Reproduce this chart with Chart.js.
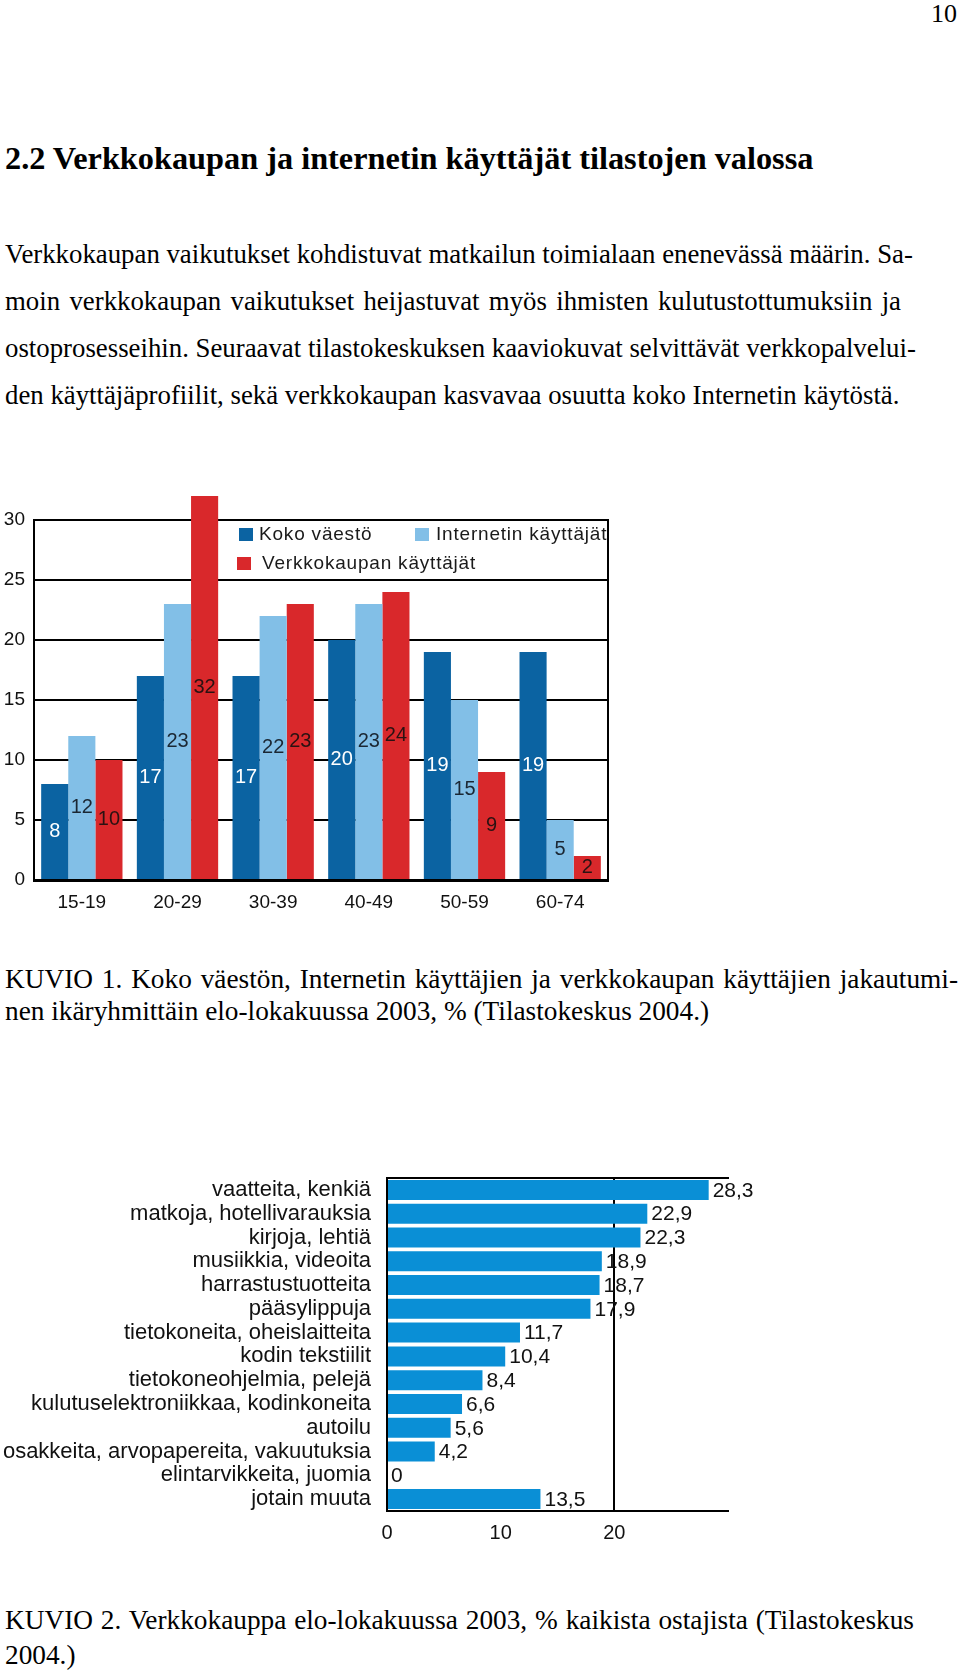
<!DOCTYPE html>
<html lang="fi">
<head>
<meta charset="utf-8">
<title>Verkkokaupan ja internetin käyttäjät</title>
<script src="https://cdn.jsdelivr.net/npm/chart.js@4.4.1/dist/chart.umd.min.js"></script>
<style>
  html, body { margin: 0; padding: 0; background: #fff; }
  body { width: 960px; height: 1673px; position: relative; overflow: hidden;
         font-family: "Liberation Serif", "Times New Roman", serif; color: #000; }
  .t { position: absolute; left: 5px; font-size: 26.8px; line-height: 30px; white-space: nowrap; }
  .c { font-size: 27.3px; }
  .j { text-align: justify; text-align-last: justify; }
  h2 { position: absolute; left: 5px; top: 141px; margin: 0; font-size: 32.3px; line-height: 34px; font-weight: bold; white-space: nowrap; }
  .box { position: absolute; }
</style>
</head>
<body>
<div class="t" style="left:auto; right:3px; top:-1px; font-size:26px;">10</div>
<h2>2.2 Verkkokaupan ja internetin käyttäjät tilastojen valossa</h2>

<div class="t j" style="top:239px; width:904px;">Verkkokaupan vaikutukset kohdistuvat matkailun toimialaan enenevässä määrin. Sa-</div>
<div class="t j" style="top:286px; width:896px;">moin verkkokaupan vaikutukset heijastuvat myös ihmisten kulutustottumuksiin ja</div>
<div class="t j" style="top:333px; width:907px;">ostoprosesseihin. Seuraavat tilastokeskuksen kaaviokuvat selvittävät verkkopalvelui-</div>
<div class="t" style="top:380px;">den käyttäjäprofiilit, sekä verkkokaupan kasvavaa osuutta koko Internetin käytöstä.</div>

<div class="box" style="left:0; top:470px; width:640px; height:450px;"><canvas id="ageChart"></canvas></div>

<div class="t c j" style="top:964px; width:953px;">KUVIO 1. Koko väestön, Internetin käyttäjien ja verkkokaupan käyttäjien jakautumi-</div>
<div class="t c" style="top:996px;">nen ikäryhmittäin elo-lokakuussa 2003, % (Tilastokeskus 2004.)</div>

<div class="box" style="left:0; top:1150px; width:800px; height:420px;"><canvas id="buyChart"></canvas></div>

<div class="t c j" style="top:1605px; width:909px;">KUVIO 2. Verkkokauppa elo-lokakuussa 2003, % kaikista ostajista (Tilastokeskus</div>
<div class="t c" style="top:1640px;">2004.)</div>

<script>
// Kuvio 1: ikäryhmät
const ageGroups = ['15-19', '20-29', '30-39', '40-49', '50-59', '60-74'];
const kokoVaesto = [8, 17, 17, 20, 19, 19];
const internetKayttajat = [12, 23, 22, 23, 15, 5];
const verkkokaupanKayttajat = [10, 32, 23, 24, 9, 2];
const seriesNames = ['Koko väestö', 'Internetin käyttäjät', 'Verkkokaupan käyttäjät'];
const ageTicks = [0, 5, 10, 15, 20, 25, 30];

// Kuvio 2: mitä ostettiin
const productGroups = [
    'vaatteita, kenkiä',
    'matkoja, hotellivarauksia',
    'kirjoja, lehtiä',
    'musiikkia, videoita',
    'harrastustuotteita',
    'pääsylippuja',
    'tietokoneita, oheislaitteita',
    'kodin tekstiilit',
    'tietokoneohjelmia, pelejä',
    'kulutuselektroniikkaa, kodinkoneita',
    'autoilu',
    'osakkeita, arvopapereita, vakuutuksia',
    'elintarvikkeita, juomia',
    'jotain muuta'
];
const buyerShares = [28.3, 22.9, 22.3, 18.9, 18.7, 17.9, 11.7, 10.4, 8.4, 6.6, 5.6, 4.2, 0, 13.5];
const shareTicks = [0, 10, 20];

const SANS = "'Liberation Sans', Arial, sans-serif";

// arvot pylväiden sisään / perään
const barLabels = {
    id: 'barLabels',
    afterDatasetsDraw(chart, args, opts) {
        const ctx = chart.ctx;
        ctx.save();
        ctx.font = opts.size + 'px ' + SANS;
        ctx.textBaseline = 'middle';
        chart.data.datasets.forEach((ds, i) => {
            const meta = chart.getDatasetMeta(i);
            meta.data.forEach((bar, j) => {
                const v = ds.data[j];
                const txt = opts.format ? opts.format(v) : String(v);
                ctx.fillStyle = opts.colors[i];
                if (opts.mode === 'end') {
                    ctx.textAlign = 'left';
                    ctx.fillText(txt, bar.x + 4, bar.y + 1);
                } else {
                    ctx.textAlign = 'center';
                    ctx.fillText(txt, bar.x, (bar.y + bar.base) / 2);
                }
            });
        });
        ctx.restore();
    }
};

// selite kuvaajan sisällä
const insideLegend = {
    id: 'insideLegend',
    afterDraw(chart, args, opts) {
        const ctx = chart.ctx;
        const a = chart.chartArea;
        ctx.save();
        ctx.font = opts.size + 'px ' + SANS;
        ctx.letterSpacing = '0.8px';
        ctx.textBaseline = 'middle';
        ctx.textAlign = 'left';
        opts.items.forEach((it, i) => {
            const ds = chart.data.datasets[i];
            ctx.fillStyle = ds.backgroundColor;
            ctx.fillRect(a.left + it.x, a.top + it.y, 14, 13);
            ctx.fillStyle = '#1a1a1a';
            ctx.fillText(ds.label, a.left + it.x + 14 + it.gap, a.top + it.y + 7);
        });
        ctx.restore();
    }
};

new Chart(document.getElementById('ageChart'), {
    type: 'bar',
    data: {
        labels: ageGroups,
        datasets: [
            { label: seriesNames[0], data: kokoVaesto, backgroundColor: '#0b63a2', clip: false },
            { label: seriesNames[1], data: internetKayttajat, backgroundColor: '#82bfe7', clip: false },
            { label: seriesNames[2], data: verkkokaupanKayttajat, backgroundColor: '#d9282b', clip: false }
        ]
    },
    options: {
        responsive: true,
        maintainAspectRatio: false,
        animation: false,
        categoryPercentage: 0.85,
        barPercentage: 1.0,
        layout: { padding: { top: 50, right: 32, bottom: 0, left: 0 } },
        plugins: {
            legend: { display: false },
            tooltip: { enabled: false },
            barLabels: { size: 20, colors: ['#ffffff', '#1b2733', '#2a1212'] },
            insideLegend: {
                size: 19,
                items: [
                    { x: 205, y: 8, gap: 6 },
                    { x: 381, y: 8, gap: 7 },
                    { x: 203, y: 37, gap: 11 }
                ]
            }
        },
        scales: {
            x: {
                grid: { display: false },
                border: { color: '#000', width: 3 },
                ticks: { color: '#111', font: { family: SANS, size: 19 }, padding: 3 },
                afterFit: s => { s.height = 40; }
            },
            y: {
                min: 0,
                max: 30,
                afterBuildTicks: s => { s.ticks = ageTicks.map(v => ({ value: v })); },
                ticks: { color: '#111', font: { family: SANS, size: 19 }, padding: 9 },
                grid: { color: '#000', lineWidth: 2, drawTicks: false },
                border: { color: '#000', width: 2 },
                afterFit: s => { s.width = 34; }
            },
            yRight: {
                position: 'right',
                min: 0,
                max: 30,
                ticks: { display: false },
                grid: { display: false },
                border: { color: '#000', width: 2 },
                afterFit: s => { s.width = 0; }
            }
        }
    },
    plugins: [barLabels, insideLegend]
});

new Chart(document.getElementById('buyChart'), {
    type: 'bar',
    data: {
        labels: productGroups,
        datasets: [{
            label: 'Verkkokauppa',
            data: buyerShares,
            backgroundColor: '#0a8fd6',
            categoryPercentage: 1.0,
            barPercentage: 0.84
        }]
    },
    options: {
        indexAxis: 'y',
        responsive: true,
        maintainAspectRatio: false,
        animation: false,
        layout: { padding: { top: 28, right: 72, bottom: 19, left: 0 } },
        plugins: {
            legend: { display: false },
            tooltip: { enabled: false },
            barLabels: {
                size: 21,
                mode: 'end',
                colors: ['#111'],
                format: v => v === 0 ? '0' : v.toFixed(1).replace('.', ',')
            }
        },
        scales: {
            x: {
                min: 0,
                max: 30,
                ticks: {
                    stepSize: 10,
                    color: '#111',
                    font: { family: SANS, size: 20 },
                    padding: 10,
                    callback: v => shareTicks.includes(v) ? v : ''
                },
                grid: {
                    color: c => (c.tick && c.tick.value === 20) ? '#000' : 'rgba(0,0,0,0)',
                    lineWidth: 2,
                    drawTicks: false
                },
                border: { color: '#000', width: 2 },
                afterFit: s => { s.height = 40; }
            },
            xTop: {
                position: 'top',
                min: 0,
                max: 30,
                ticks: { display: false },
                grid: { display: false },
                border: { color: '#000', width: 2 },
                afterFit: s => { s.height = 0; }
            },
            y: {
                grid: { display: false },
                border: { color: '#000', width: 2 },
                ticks: { color: '#111', font: { family: SANS, size: 22 }, padding: 8, autoSkip: false },
                afterFit: s => { s.width = 387; }
            }
        }
    },
    plugins: [barLabels]
});
</script>
</body>
</html>
